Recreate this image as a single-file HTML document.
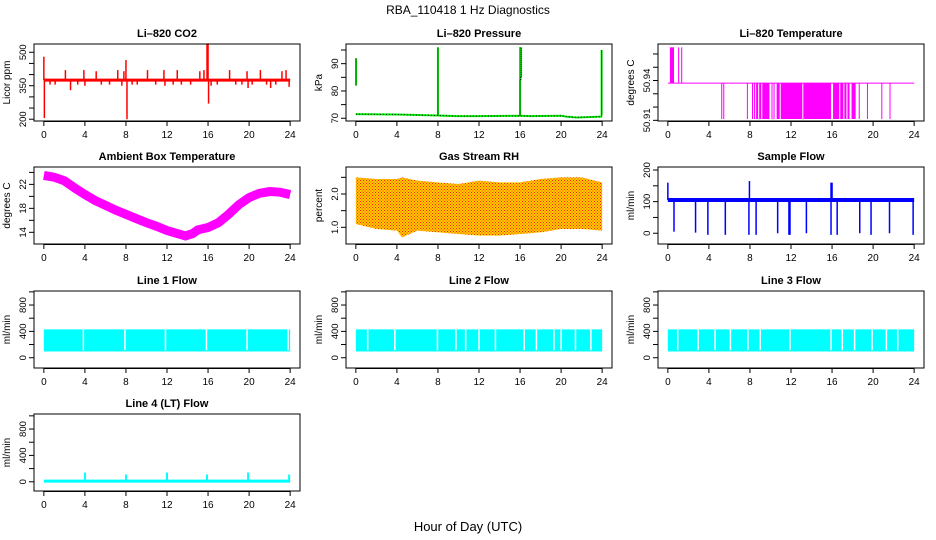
<!DOCTYPE html>
<html><head><meta charset="utf-8"><style>
html,body{margin:0;padding:0;background:#fff;}
svg{display:block;font-family:"Liberation Sans",sans-serif;}
</style></head><body>
<svg id="c" width="936" height="540" viewBox="0 0 936 540">
<defs>
<pattern id="rhpat" width="3" height="3" patternUnits="userSpaceOnUse">
<rect width="3" height="3" fill="#ffcc00"/><rect width="1" height="1" fill="#ff2000"/><rect x="1.5" y="1.5" width="1" height="1" fill="#ff2000"/>
</pattern>
</defs>
<text x="468" y="14" text-anchor="middle" font-size="12">RBA_110418  1 Hz Diagnostics</text>
<text x="468" y="531" text-anchor="middle" font-size="13">Hour of Day (UTC)</text>
</svg>
<script>
// ---- data ----
const hourTicks = [0,4,8,12,16,20,24];
const co2Base = 375;
const co2SpikeHours = [0,0.05,0.6,1.1,2.1,2.6,3.3,3.9,4.0,5.1,5.6,6.4,7.2,7.6,7.8,8.0,8.1,8.6,9.1,10.1,10.9,11.7,11.8,12.6,13.0,13.4,14.3,15.2,15.6,15.9,16.0,16.05,16.3,16.9,18.1,18.7,19.3,19.8,19.9,20.3,21.1,21.7,22.1,22.6,23.2,23.6,23.9];
const co2SpikeValues = [480,205,355,355,420,330,355,420,350,415,355,355,420,350,415,465,200,355,355,420,355,420,350,355,420,355,355,415,420,535,540,270,350,355,420,355,355,415,340,355,420,355,340,355,415,420,345];
const presBaseHours = [0,4,8,9.8,12,16,17,20,20.5,21.5,24];
const presBaseValues = [71.5,71.4,71.0,70.8,70.8,70.9,70.8,70.9,70.6,70.3,70.6];
const presSpikeHours = [0.02,8.0,16.0,16.05,16.1,23.95];
const presSpikeLow = [82,71,71,84,85,71];
const presSpikeHigh = [92,96,96,96,96,95];
const tempBase = 50.938;
const tempHighStart = [0.2,1.0,1.3];
const tempHighEnd = [0.6,1.1,1.4];
const tempLowStart = [5.2,5.4,7.7,8.2,8.4,8.6,8.9,9.2,10.1,10.3,10.6,11.0,13.2,16.1,16.8,17.2,17.5,17.9,18.6,19.4,20.8,21.6];
const tempLowEnd = [5.3,5.45,7.75,8.3,8.5,8.8,9.1,9.9,10.2,10.4,10.9,13.1,15.9,16.7,17.1,17.4,17.7,18.3,18.65,19.45,20.85,21.65];
const ambHours = [0,1,2,3,4,5,6,7,8,9,10,11,12,13,13.8,14.5,15,16,17,18,19,20,21,22,23,24];
const ambValues = [23.5,23.2,22.6,21.4,20.3,19.3,18.5,17.7,17.0,16.3,15.6,15.0,14.3,13.8,13.4,13.8,14.4,14.8,15.6,17.0,18.6,19.8,20.5,20.8,20.7,20.3];
const rhHours = [0,2,4,4.5,6,8,10,12,14,16,18,20,22,24];
const rhUpper = [2.5,2.45,2.45,2.5,2.4,2.35,2.3,2.4,2.35,2.35,2.45,2.5,2.5,2.35];
const rhLower = [1.1,0.95,0.9,0.7,0.9,0.85,0.8,0.75,0.75,0.8,0.85,0.95,0.95,0.9];
const sfBase = 105;
const sfDipHours = [0.6,2.7,3.9,5.6,7.9,8.6,10.7,11.8,11.9,13.5,15.9,16.5,18.7,19.8,21.6,23.9];
const sfDipValues = [5,2,-5,-5,-5,-5,0,-5,-5,0,-5,-5,0,-5,0,-5];
const sfSpikeHours = [0,7.95,15.9,16.0];
const sfSpikeValues = [160,165,160,160];
const flowTop = 430, flowBottom = 95;
const line1Gaps = [3.85,7.9,11.85,15.85,19.8,23.8];
const line2Gaps = [1.15,3.8,7.95,9.75,10.7,12.0,13.6,16.4,17.6,19.3,20.0,21.4,22.9];
const line3Gaps = [0.96,2.95,4.6,6.1,7.8,9.0,11.9,15.9,17.0,18.2,19.9,21.3,22.4];
const line4Base = 10;
const line4SpikeHours = [4.0,8.0,12.0,15.9,19.9,23.9];
const line4SpikeValues = [140,110,140,110,140,110];

// ---- drawing ----
const svg = document.getElementById('c');
const NS = 'http://www.w3.org/2000/svg';
function mk(tag, attrs, parent){const e=document.createElementNS(NS,tag);for(const k in attrs)e.setAttribute(k,attrs[k]);(parent||svg).appendChild(e);return e;}
const colL=[34,346,658], rowT=[44,167,291,414], W=266, H=77;
function panel(col,row,title,ylab,ymin,ymax,yticks,ylabels,name){
  const g=mk('g',{});
  
  
  const L=colL[col], T=rowT[row];
  const sx=h=>L+(h+0.96)/25.92*W;
  const sy=v=>T+H-(v-ymin)/(ymax-ymin)*H;
  const t=mk('text',{x:L+W/2,y:T-7,'text-anchor':'middle','font-size':11,'font-weight':'bold'},g);
  t.textContent=title;
  
  
  const yl=mk('text',{transform:`translate(${L-24},${T+H/2}) rotate(-90)`,'text-anchor':'middle','font-size':10},g);
  yl.textContent=ylab;
  
  
  const plot=mk('g',{},g);
  const box=mk('rect',{x:L,y:T,width:W,height:H,fill:'none',stroke:'#000','stroke-width':1},g);
  
  
  hourTicks.forEach(h=>{
    mk('line',{x1:sx(h),x2:sx(h),y1:T+H,y2:T+H+5,stroke:'#000'},g);
    const tx=mk('text',{x:sx(h),y:T+H+17,'text-anchor':'middle','font-size':10},g);
    tx.textContent=h;
    
    
  });
  mk('line',{x1:sx(0),x2:sx(24),y1:T+H+0.5,y2:T+H+0.5,stroke:'#000'},g);
  yticks.forEach(v=>mk('line',{x1:L-5,x2:L,y1:sy(v),y2:sy(v),stroke:'#000'},g));
  mk('line',{x1:L,x2:L,y1:sy(yticks[0]),y2:sy(yticks[yticks.length-1]),stroke:'#000'},g);
  ylabels.forEach(([v,s])=>{
    const tx=mk('text',{transform:`translate(${L-8},${sy(v)}) rotate(-90)`,'text-anchor':'middle','font-size':9.5},g);
    tx.textContent=s;
    
    
  });
  return {sx,sy,plot};
}
function vline(p,h,a,b,c,w){return mk('line',{x1:p.sx(h),x2:p.sx(h),y1:p.sy(a),y2:p.sy(b),stroke:c,'stroke-width':w||1},p.plot);}
function poly(p,hs,vs,c,w){return mk('polyline',{points:hs.map((h,i)=>p.sx(h)+','+p.sy(vs[i])).join(' '),fill:'none',stroke:c,'stroke-width':w||1},p.plot);}

// CO2
let p=panel(0,0,'Li\u2013820 CO2','Licor ppm',192,537,[200,250,300,350,400,450,500],[[200,'200'],[350,'350'],[500,'500']],'co2');
let e=poly(p,[0,24],[co2Base,co2Base],'#ff0000',3);

co2SpikeHours.forEach((h,i)=>{const s=vline(p,h,co2Base,co2SpikeValues[i],'#ff0000',1.5);
});
// Pressure
p=panel(1,0,'Li\u2013820 Pressure','kPa',69,97.2,[70,75,80,85,90,95],[[70,'70'],[80,'80'],[90,'90']],'pressure');
e=poly(p,presBaseHours,presBaseValues,'#00ee00',2);

e=mk('polyline',{points:presBaseHours.map((h,i)=>p.sx(h)+','+p.sy(presBaseValues[i])).join(' '),fill:'none',stroke:'#000','stroke-width':1,'stroke-dasharray':'1 2'},p.plot);
presSpikeHours.forEach((h,i)=>{vline(p,h,presSpikeLow[i],presSpikeHigh[i],'#00ee00',2);
const s=mk('line',{x1:p.sx(h),x2:p.sx(h),y1:p.sy(presSpikeLow[i]),y2:p.sy(presSpikeHigh[i]),stroke:'#000','stroke-dasharray':'1 1'},p.plot);
});
// Li820 temperature
p=panel(2,0,'Li\u2013820 Temperature','degrees C',50.9095,50.9675,[50.91,50.92,50.93,50.94,50.95,50.96],[[50.91,'50.91'],[50.94,'50.94']],'li820-temp');
e=poly(p,[0,24],[tempBase,tempBase],'#ff00ff',1);

tempHighStart.forEach((s,i)=>{const r=mk('rect',{x:p.sx(s),y:p.sy(50.965),width:Math.max(1,p.sx(tempHighEnd[i])-p.sx(s)),height:p.sy(tempBase)-p.sy(50.965),fill:'#ff00ff'},p.plot);
});
tempLowStart.forEach((s,i)=>{const r=mk('rect',{x:p.sx(s),y:p.sy(tempBase),width:Math.max(1,p.sx(tempLowEnd[i])-p.sx(s)),height:p.sy(50.911)-p.sy(tempBase),fill:'#ff00ff'},p.plot);
});
// Ambient
p=panel(0,1,'Ambient Box Temperature','degrees C',12.05,24.9,[14,16,18,20,22,24],[[14,'14'],[18,'18'],[22,'22']],'ambient-temp');
e=poly(p,ambHours,ambValues,'#ff00ff',9);

// RH
p=panel(1,1,'Gas Stream RH','percent',0.5,2.81,[1.0,1.5,2.0,2.5],[[1.0,'1.0'],[2.0,'2.0']],'rh');
e=mk('polygon',{points:rhHours.map((h,i)=>p.sx(h)+','+p.sy(rhUpper[i])).concat(rhHours.slice().reverse().map((h,j)=>p.sx(h)+','+p.sy(rhLower[rhHours.length-1-j]))).join(' '),fill:'url(#rhpat)'},p.plot);

// Sample flow
p=panel(2,1,'Sample Flow','ml/min',-34,209.5,[0,50,100,150,200],[[0,'0'],[100,'100'],[200,'200']],'sample-flow');
e=poly(p,[0,24],[sfBase,sfBase],'#0000ff',4);

sfDipHours.forEach((h,i)=>{const s=vline(p,h,sfBase,sfDipValues[i],'#0000ff',1.5);
});
sfSpikeHours.forEach((h,i)=>{const s=vline(p,h,sfBase,sfSpikeValues[i],'#0000ff',1.5);
});
// Line flows
function flowPanel(col,row,title,gaps,name,ymin,ymax){
  const q=panel(col,row,title,'ml/min',ymin,ymax,[0,200,400,600,800,1000],[[0,'0'],[400,'400'],[800,'800']],name);
  const r=mk('rect',{x:q.sx(0),y:q.sy(flowTop),width:q.sx(24)-q.sx(0),height:q.sy(flowBottom)-q.sy(flowTop),fill:'#00ffff'},q.plot);
  
  gaps.forEach(h=>{const gl=vline(q,h,flowTop+10,flowBottom+20,'#ffffff',1.5);
  });
  return q;
}
flowPanel(0,2,'Line 1 Flow',line1Gaps,'line1-flow',-156,1013);
flowPanel(1,2,'Line 2 Flow',line2Gaps,'line2-flow',-156,1013);
flowPanel(2,2,'Line 3 Flow',line3Gaps,'line3-flow',-156,1013);
p=panel(0,3,'Line 4 (LT) Flow','ml/min',-140,1028,[0,200,400,600,800,1000],[[0,'0'],[400,'400'],[800,'800']],'line4-flow');
e=poly(p,[0,24],[line4Base,line4Base],'#00ffff',3);

line4SpikeHours.forEach((h,i)=>{const s=vline(p,h,line4Base,line4SpikeValues[i],'#00ffff',2);
});
</script>
</body></html>
